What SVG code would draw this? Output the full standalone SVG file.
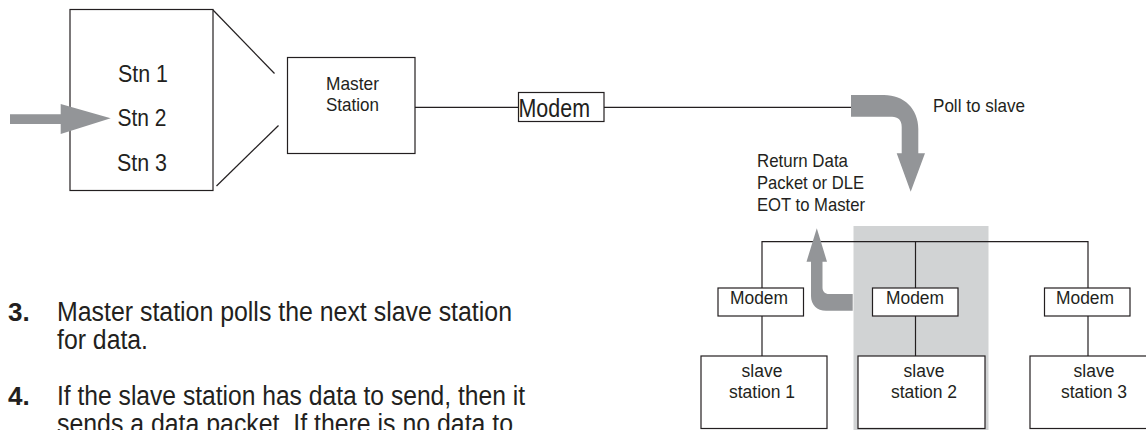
<svg xmlns="http://www.w3.org/2000/svg" width="1146" height="430" viewBox="0 0 1146 430">
  <style>
    text { font-family: "Liberation Sans Narrow", "Liberation Sans", Arial, sans-serif; fill: #231f20; }
    .box { fill: #ffffff; stroke: #231f20; stroke-width: 1.2; }
    .wire { fill: none; stroke: #231f20; stroke-width: 1.2; }
    .flow { fill: #939598; stroke: none; }
    .band { fill: #d1d3d4; stroke: none; }
    .big { font-size: 24px; }
    .lbl { font-size: 19px; }
    .small { font-size: 17.5px; }
    .body { font-size: 27px; }
    .num { font-size: 26px; font-weight: bold; }
    .mid { text-anchor: middle; }
  </style>

  <!-- highlighted slave branch -->
  <rect class="band" x="853.5" y="226" width="135" height="210"/>

  <!-- connectors -->
  <g id="connectors">
    <line class="wire" x1="213" y1="10" x2="274.5" y2="73.5"/>
    <line class="wire" x1="216.5" y1="186" x2="278.5" y2="125.5"/>
    <line class="wire" x1="415" y1="107.3" x2="518.5" y2="107.3"/>
    <line class="wire" x1="604" y1="107.3" x2="852" y2="107.3"/>
    <!-- slave bus -->
    <polyline class="wire" points="762,288 762,241.7 1088,241.7 1088,288"/>
    <line class="wire" x1="915.5" y1="241.7" x2="915.5" y2="288"/>
    <line class="wire" x1="762" y1="316" x2="762" y2="356"/>
    <line class="wire" x1="915.5" y1="316" x2="915.5" y2="356"/>
    <line class="wire" x1="1088" y1="316" x2="1088" y2="356"/>
    <!-- poll and reply arrows -->
    <path class="flow" d="M851,95 H884 C904,95 918.3,109 918.3,129 V153.3 H925 L910.7,191.7 L896.7,153.3 H901.7 V127 C901.7,120 898,116.7 892,116.7 H851 Z"/>
    <path class="flow" d="M852.7,294 H829 C825,294 822.5,291.5 822.5,287.5 V261.7 H827 L816.8,228.3 L806.5,261.7 H811 V296 C811,305 817,310.7 826,310.7 H852.7 Z"/>
  </g>

  <!-- station list -->
  <g id="station-list">
    <rect class="box" x="70" y="9.5" width="143" height="181"/>
    <text class="big" x="118" y="82" textLength="50" lengthAdjust="spacingAndGlyphs">Stn 1</text>
    <text class="big" x="117.5" y="126" textLength="49" lengthAdjust="spacingAndGlyphs">Stn 2</text>
    <text class="big" x="117" y="170.5" textLength="50" lengthAdjust="spacingAndGlyphs">Stn 3</text>
  </g>

  <!-- pointer to the station being polled, drawn over the list frame -->
  <path id="current-station" class="flow" d="M10,114.3 H60.7 V104 L110.7,118.3 L60.7,134 V124 H10 Z"/>

  <!-- master station -->
  <g id="master-station">
    <rect class="box" x="287.5" y="57.5" width="127.5" height="96"/>
    <text class="lbl" x="326" y="90" textLength="53" lengthAdjust="spacingAndGlyphs">Master</text>
    <text class="lbl" x="326" y="111" textLength="53" lengthAdjust="spacingAndGlyphs">Station</text>
  </g>

  <!-- master modem -->
  <g id="master-modem">
    <rect class="box" x="518.5" y="92.5" width="85.5" height="29"/>
    <text x="518.5" y="116.7" font-size="25" textLength="71.5" lengthAdjust="spacingAndGlyphs">Modem</text>
  </g>

  <!-- flow labels -->
  <g id="poll-label">
    <text class="lbl" x="933" y="111.7" textLength="92" lengthAdjust="spacingAndGlyphs">Poll to slave</text>
  </g>
  <g id="return-label">
    <text class="lbl" x="757" y="166.5" textLength="91" lengthAdjust="spacingAndGlyphs">Return Data</text>
    <text class="lbl" x="757" y="188.5" textLength="107" lengthAdjust="spacingAndGlyphs">Packet or DLE</text>
    <text class="lbl" x="757" y="210.7" textLength="108" lengthAdjust="spacingAndGlyphs">EOT to Master</text>
  </g>

  <!-- slave branch 1 -->
  <g id="slave-1">
    <rect class="box" x="718" y="288" width="85.5" height="28"/>
    <text class="small mid" x="759" y="303.5" textLength="58" lengthAdjust="spacingAndGlyphs">Modem</text>
    <rect class="box" x="701" y="356" width="126" height="72.5"/>
    <text class="small mid" x="762" y="377">slave</text>
    <text class="small mid" x="762" y="397.5">station 1</text>
  </g>

  <!-- slave branch 2 -->
  <g id="slave-2">
    <rect class="box" x="872.5" y="288" width="85.5" height="28"/>
    <text class="small mid" x="915" y="303.5" textLength="58" lengthAdjust="spacingAndGlyphs">Modem</text>
    <rect class="box" x="858" y="356" width="127" height="72.5"/>
    <text class="small mid" x="924" y="377">slave</text>
    <text class="small mid" x="924" y="397.5">station 2</text>
  </g>

  <!-- slave branch 3 -->
  <g id="slave-3">
    <rect class="box" x="1044.5" y="288" width="85.5" height="28"/>
    <text class="small mid" x="1085" y="303.5" textLength="58" lengthAdjust="spacingAndGlyphs">Modem</text>
    <rect class="box" x="1030" y="356" width="127" height="72.5"/>
    <text class="small mid" x="1094" y="377">slave</text>
    <text class="small mid" x="1094" y="397.5">station 3</text>
  </g>

  <!-- procedure steps -->
  <g id="steps">
    <text class="num" x="8" y="321">3.</text>
    <text class="body" x="57" y="321" textLength="455" lengthAdjust="spacingAndGlyphs">Master station polls the next slave station</text>
    <text class="body" x="57" y="348.5" textLength="91" lengthAdjust="spacingAndGlyphs">for data.</text>
    <text class="num" x="8" y="404.5">4.</text>
    <text class="body" x="57" y="404.5" textLength="468" lengthAdjust="spacingAndGlyphs">If the slave station has data to send, then it</text>
    <text class="body" x="57" y="433" textLength="456" lengthAdjust="spacingAndGlyphs">sends a data packet. If there is no data to</text>
  </g>
</svg>
